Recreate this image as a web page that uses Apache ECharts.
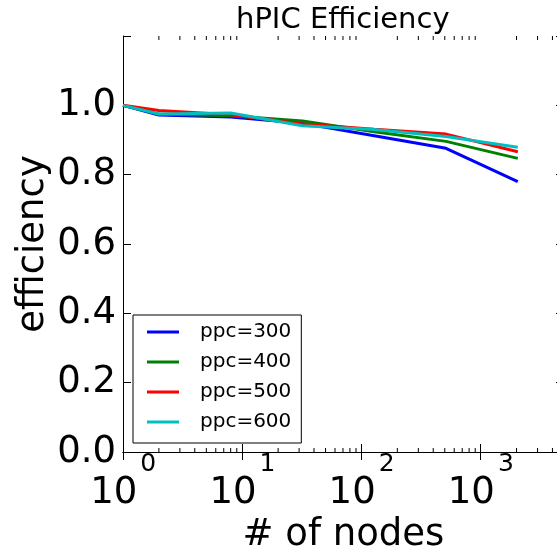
<!DOCTYPE html>
<html>
<head>
<meta charset="utf-8">
<script src="https://cdn.jsdelivr.net/npm/echarts@6/dist/echarts.min.js"></script>
<style>html,body{margin:0;padding:0;background:#fff;overflow:hidden}#c{width:564px;height:559px}</style>
</head>
<body>
<div id="c"></div>
<script>
const nodes = [1, 2, 8, 32, 128, 512, 2048];
const ppc300 = [1.0, 0.972, 0.966, 0.948, 0.912, 0.876, 0.780];
const ppc400 = [1.0, 0.975, 0.970, 0.955, 0.924, 0.896, 0.847];
const ppc500 = [1.0, 0.985, 0.973, 0.946, 0.931, 0.917, 0.866];
const ppc600 = [1.0, 0.975, 0.978, 0.941, 0.930, 0.910, 0.879];
const seriesNames = ['ppc=300', 'ppc=400', 'ppc=500', 'ppc=600'];
const seriesColors = ['#0000ff', '#008000', '#ff0000', '#00bfbf'];
const yTickLabels = ['0.0', '0.2', '0.4', '0.6', '0.8', '1.0'];
const minorTickValues = [2,3,4,5,6,7,8,9,20,30,40,50,60,70,80,90,200,300,400,500,600,700,800,900,2000,3000,4000];

const FONT = 'DejaVu Sans';
const allData = [ppc300, ppc400, ppc500, ppc600];

const lineSeries = allData.map((vals, i) => ({
  name: seriesNames[i],
  type: 'line',
  data: nodes.map((n, j) => [n, vals[j]]),
  symbol: 'none',
  lineStyle: { width: 3, color: seriesColors[i] },
  itemStyle: { color: seriesColors[i] },
  z: 3 + i,
  silent: true
}));

const minorSeries = {
  type: 'custom',
  coordinateSystem: 'cartesian2d',
  silent: true,
  clip: false,
  data: minorTickValues.map(v => [v, 0]),
  renderItem: function (params, api) {
    const v = api.value(0);
    const b = api.coord([v, 0]);
    const t = api.coord([v, 1.2]);
    const st = { stroke: '#000', lineWidth: 1 };
    return {
      type: 'group',
      children: [
        { type: 'line', shape: { x1: b[0], y1: b[1], x2: b[0], y2: b[1] - 4 }, style: st },
        { type: 'line', shape: { x1: t[0], y1: t[1], x2: t[0], y2: t[1] + 4 }, style: st }
      ]
    };
  },
  z: 2
};

const option = {
  animation: false,
  backgroundColor: '#fff',
  textStyle: { fontFamily: FONT },
  title: {
    text: 'hPIC Efficiency',
    left: 236,
    top: 6,
    padding: 0,
    textStyle: { fontFamily: FONT, fontSize: 29, fontWeight: 'normal', color: '#000' }
  },
  legend: {
    data: seriesNames,
    orient: 'vertical',
    left: 133,
    top: 315,
    padding: [7, 10, 11, 14],
    borderColor: '#000',
    borderWidth: 1,
    borderRadius: 0,
    backgroundColor: '#fff',
    icon: 'rect',
    itemWidth: 32,
    itemHeight: 3,
    itemGap: 10,
    selectedMode: false,
    textStyle: { fontFamily: FONT, fontSize: 20, color: '#000', lineHeight: 20, padding: [0, 0, 0, 16] },
    z: 10
  },
  grid: { left: 123, top: 36, bottom: 107, right: 0, containLabel: false, outerBoundsMode: 'none' },
  xAxis: [{
    type: 'log',
    logBase: 10,
    min: 1,
    max: 5000,
    interval: 1,
    position: 'bottom',
    name: '# of nodes',
    nameLocation: 'middle',
    nameGap: 65,
    nameMoveOverlap: false,
    nameTextStyle: { fontFamily: FONT, fontSize: 37, color: '#000' },
    axisLine: { show: true, lineStyle: { color: '#000', width: 1 } },
    axisTick: { show: true, inside: true, length: 8, lineStyle: { color: '#000' } },
    splitLine: { show: false },
    axisLabel: {
      show: true,
      margin: 0,
      color: '#000',
      fontFamily: FONT,
      formatter: function (v) {
        const e = Math.log10(v);
        if (Math.abs(e - Math.round(e)) > 1e-6) return '';
        return '{h| }{b|10}{s|' + Math.round(e) + '}';
      },
      rich: {
        h: { fontSize: 1, lineHeight: 60, verticalAlign: 'top' },
        b: { fontFamily: FONT, fontSize: 37, color: '#000', lineHeight: 37, verticalAlign: 'bottom' },
        s: { fontFamily: FONT, fontSize: 25, color: '#000', lineHeight: 25, verticalAlign: 'top', padding: [0, 0, 0, 3] }
      }
    }
  }, {
    type: 'log',
    logBase: 10,
    min: 1,
    max: 5000,
    interval: 1,
    position: 'top',
    axisLine: { show: true, lineStyle: { color: '#000', width: 1 } },
    axisTick: { show: true, inside: true, length: 8, lineStyle: { color: '#000' } },
    axisLabel: { show: false },
    splitLine: { show: false }
  }],
  yAxis: [{
    type: 'value',
    min: 0,
    max: 1.2,
    interval: 0.2,
    position: 'left',
    name: 'efficiency',
    nameLocation: 'middle',
    nameRotate: 90,
    nameGap: 71,
    nameMoveOverlap: false,
    nameTextStyle: { fontFamily: FONT, fontSize: 37, color: '#000' },
    axisLine: { show: true, lineStyle: { color: '#000', width: 1 } },
    axisTick: { show: true, inside: true, length: 8, lineStyle: { color: '#000' } },
    splitLine: { show: false },
    axisLabel: {
      margin: 7,
      color: '#000',
      fontFamily: FONT,
      fontSize: 37,
      formatter: function (v) {
        const idx = Math.round(v / 0.2);
        return idx < yTickLabels.length ? yTickLabels[idx] : '';
      }
    }
  }, {
    type: 'value',
    min: 0,
    max: 1.2,
    interval: 0.2,
    position: 'right',
    axisLine: { show: true, lineStyle: { color: '#000', width: 1 } },
    axisTick: { show: true, inside: true, length: 8, lineStyle: { color: '#000' } },
    axisLabel: { show: false },
    splitLine: { show: false }
  }],
  series: lineSeries.concat([minorSeries])
};

const chart = echarts.init(document.getElementById('c'), null, { renderer: 'canvas', width: 564, height: 559 });
chart.setOption(option);
</script>
</body>
</html>
